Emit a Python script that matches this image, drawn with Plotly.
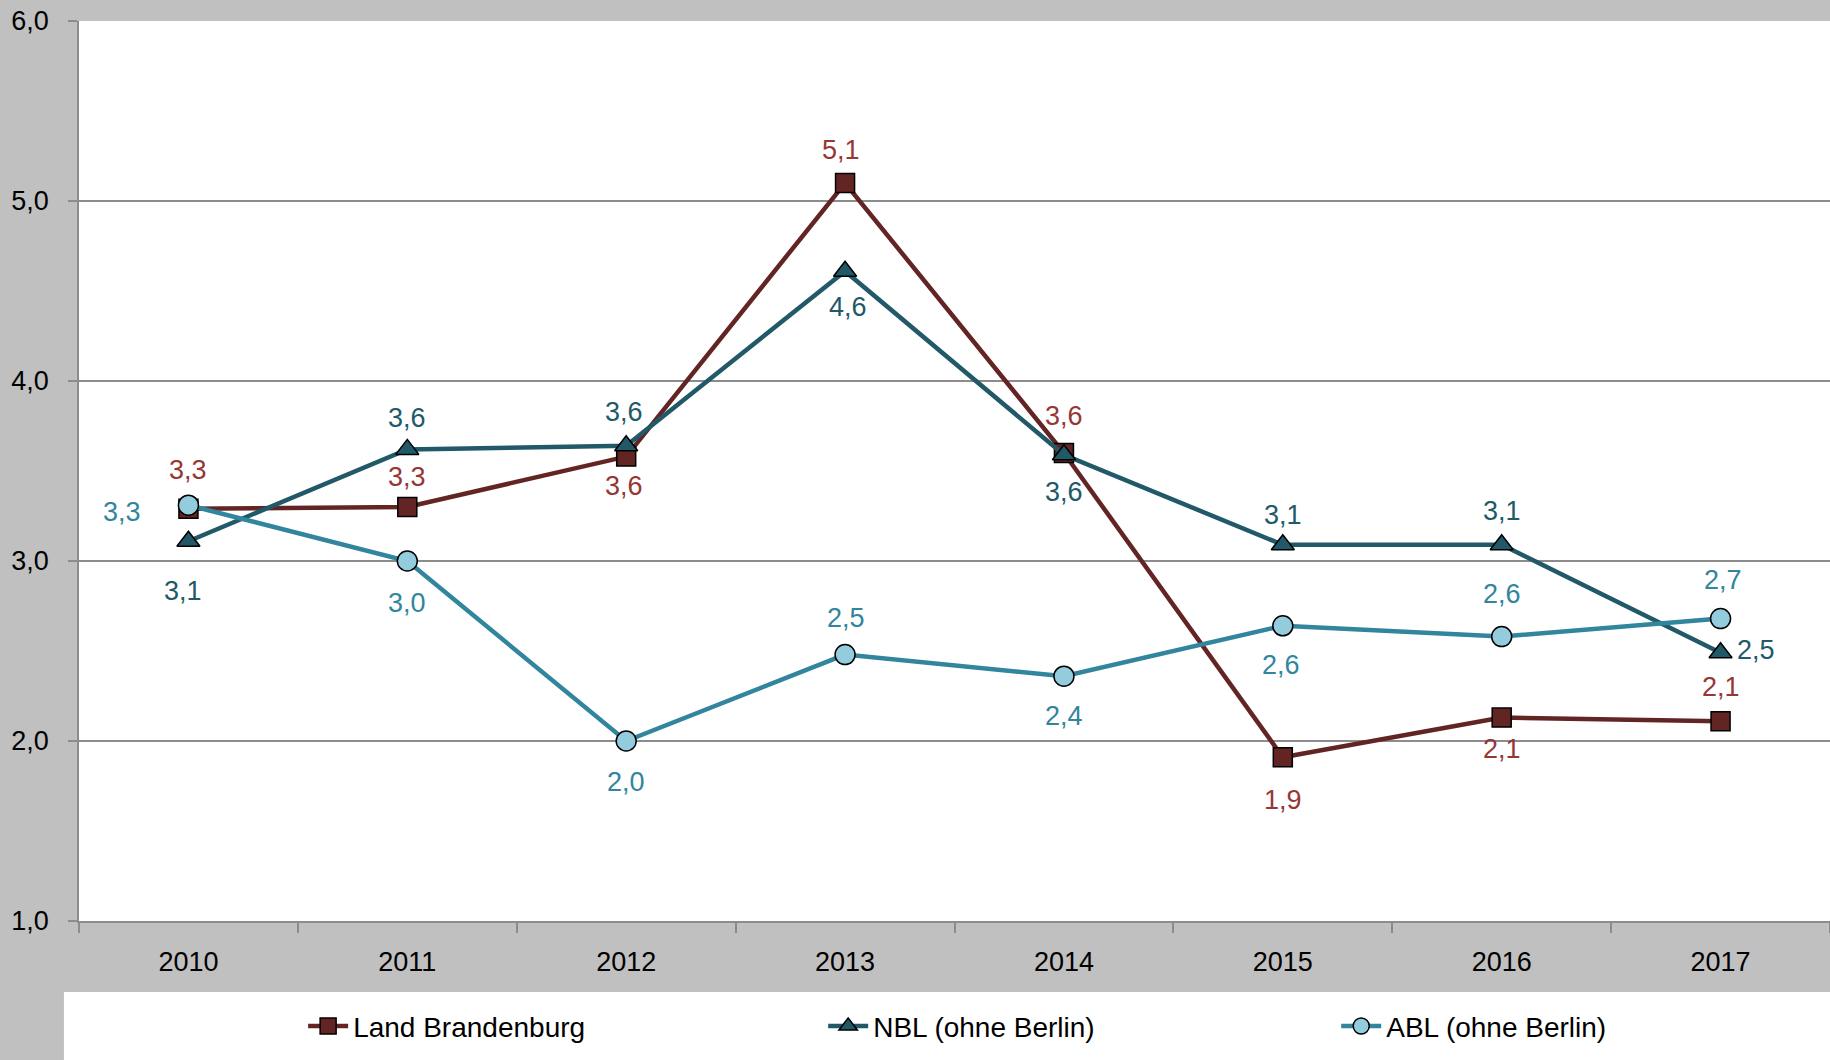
import plotly.graph_objects as go

years = ["2010", "2011", "2012", "2013", "2014", "2015", "2016", "2017"]
land_brandenburg = [3.29, 3.30, 3.58, 5.10, 3.60, 1.91, 2.13, 2.11]
nbl = [3.11, 3.62, 3.64, 4.61, 3.59, 3.09, 3.09, 2.49]
abl = [3.31, 3.00, 2.00, 2.48, 2.36, 2.64, 2.58, 2.68]

# label offsets in pixels (styling only)
land_off = [(0, 39), (0, 30), (-2, -29), (-4, 33), (0, 37), (0, -43), (0, -31), (0, 34)]
nbl_off = [(-5, -50), (0, 31), (-2, 34), (3, -36), (0, -37), (0, 30), (0, 34), (35, 3)]
abl_off = [(-66, -7), (0, -42), (0, -41), (1, 37), (0, -40), (-2, -39), (0, 43), (2, 39)]

FONT = "Liberation Sans Narrow, Arial Narrow, Liberation Sans, Arial, sans-serif"

series = [
    ("Land Brandenburg", land_brandenburg, "#632523", "#632523", "square", 19, "#953735", land_off, "legend", 0.128),
    ("NBL (ohne Berlin)", nbl, "#215968", "#215968", "triangle-up", 20, "#215968", nbl_off, "legend2", 0.425),
    ("ABL (ohne Berlin)", abl, "#31859C", "#93CDDD", "circle", 20, "#31859C", abl_off, "legend3", 0.718),
]

fig = go.Figure()
annotations = []
legends = {}
for name, vals, lc, fc, sym, size, tc, offs, lg, lx in series:
    fig.add_trace(go.Scatter(
        x=years, y=vals, name=name, mode="lines+markers",
        line=dict(color=lc, width=4.5),
        marker=dict(symbol=sym, size=size, color=fc, line=dict(color="black", width=1.5)),
        legend=lg,
    ))
    for i, (yv, (dx, dy)) in enumerate(zip(vals, offs)):
        annotations.append(dict(
            x=i, y=yv, xref="x", yref="y", text=f"{yv:.1f}".replace(".", ","),
            showarrow=False, xshift=dx, yshift=dy,
            font=dict(family=FONT, size=27, color=tc),
        ))
    legends[lg] = dict(
        x=lx, xanchor="left", y=-0.117, yanchor="middle",
        bgcolor="rgba(0,0,0,0)", font=dict(family=FONT, size=28, color="black"),
        itemwidth=40,
    )

fig.update_layout(
    width=1830, height=1060,
    margin=dict(l=79, r=0, t=21, b=139, autoexpand=False),
    paper_bgcolor="#C0C0C0", plot_bgcolor="white",
    separators=",.",
    font=dict(family=FONT, color="black"),
    annotations=annotations,
    showlegend=True,
    **legends,
    shapes=[dict(
        type="rect", xref="paper", yref="paper",
        x0=-0.0086, x1=1.01, y0=-0.079, y1=-0.2,
        fillcolor="white", line=dict(width=0), layer="below",
    )],
)
fig.update_xaxes(
    type="category", range=[-0.5, 7.5], tickson="boundaries",
    ticks="outside", ticklen=10, tickcolor="#8C8C8C", tickwidth=1.5,
    showline=True, linecolor="#8C8C8C", linewidth=1.5, showgrid=False,
    tickfont=dict(family=FONT, size=27, color="black"), ticklabelstandoff=16,
    automargin=False,
)
fig.update_yaxes(
    range=[1, 6], dtick=1, tickformat=".1f",
    ticks="outside", ticklen=9, tickcolor="#8C8C8C", tickwidth=1.5,
    showline=True, linecolor="#8C8C8C", linewidth=1.5,
    showgrid=True, gridcolor="#8C8C8C", gridwidth=1.5, zeroline=False,
    tickfont=dict(family=FONT, size=27, color="black"), ticklabelstandoff=14,
    automargin=False,
)

fig.write_html(
    "out.html",
    config={"displayModeBar": False},
    post_script="document.body.style.margin='0';document.body.style.overflow='hidden';",
)
